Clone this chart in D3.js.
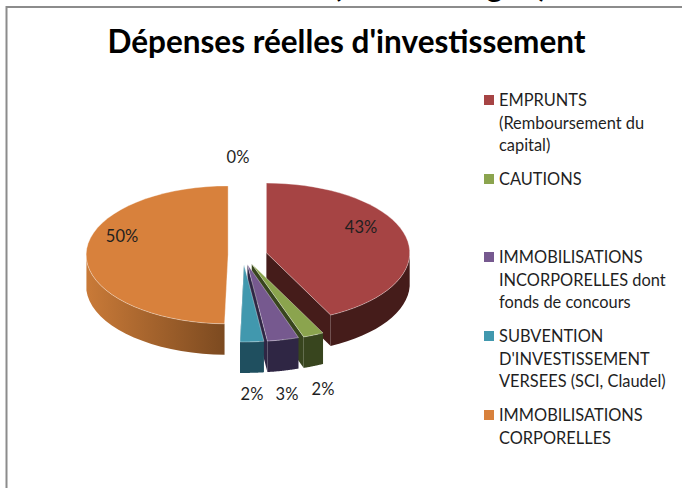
<!DOCTYPE html>
<html><head><meta charset="utf-8">
<script src="https://cdn.jsdelivr.net/npm/d3@7/dist/d3.min.js"></script>
<style>html,body{margin:0;padding:0;background:#fff;overflow:hidden}svg{display:block}text{font-family:Lato,"Open Sans",sans-serif}</style>
</head><body><svg id="c" width="682" height="488"></svg>
<script>
const categories = ["EMPRUNTS (Remboursement du capital)", "CAUTIONS", "", "IMMOBILISATIONS INCORPORELLES dont fonds de concours", "SUBVENTION D'INVESTISSEMENT VERSEES (SCI, Claudel)", "IMMOBILISATIONS CORPORELLES"];
const values = [42.6, 2.1, 0.1, 3.2, 2.4, 49.6];
const legendLines = [["EMPRUNTS","(Remboursement du","capital)"],["CAUTIONS"],[""],["IMMOBILISATIONS","INCORPORELLES dont","fonds de concours"],["SUBVENTION","D'INVESTISSEMENT","VERSEES (SCI, Claudel)"],["IMMOBILISATIONS","CORPORELLES"]];
const topColors = ["#a64444","#8ba44e","#ffffff","#76598f","#4198ae","#d8813c"];
const sideColors = ["#451c1a","#38451e","#ffffff","#2f2644","#1f4f5f","#8a5224"];
const titleText = "Dépenses réelles d'investissement";
const clippedText = "(hors budget)";

const svg = d3.select("#c");
// frame
svg.append("path").attr("d","M682,7H6.5V488").attr("fill","none").attr("stroke","#8c8c8c").attr("stroke-width",2);
svg.append("clipPath").attr("id","tc").append("rect").attr("x",0).attr("y",0).attr("width",682).attr("height",6);
svg.append("g").attr("clip-path","url(#tc)").append("text").attr("x",333).attr("y",-3).attr("textLength",214).attr("font-size",31).attr("font-weight",700).attr("fill","#000").text(clippedText);
svg.append("text").attr("x",346.5).attr("y",53).attr("text-anchor","middle").attr("font-size",31.5).attr("font-weight",700).attr("fill","#000").text(titleText);

// projected pie
const cx=247, cy=255, rx=142, ry=69, depth=31, explode=0.14;
const pie=d3.pie().sort(null).value(d=>d)(values);
const xS=d3.scaleLinear().domain([-1,1]).range([cx-rx,cx+rx]);
const yS=d3.scaleLinear().domain([-1,1]).range([cy-ry,cy+ry]);
const stretch=[1.01,1.12,1,1.12,1.12,1];
const shiftX=[0,-3,0,-4,-4,1];
const defs=svg.append("defs");
const g=svg.append("g");
function P(a,r,m,i){const sc=stretch[i];return [xS(Math.sin(m)*explode+Math.sin(a)*r*sc)+shiftX[i], yS(-Math.cos(m)*explode-Math.cos(a)*r*sc)];}
pie.forEach((d,i)=>{
  if(d.value<1) return;
  const m=(d.startAngle+d.endAngle)/2, n=40;
  const angs=d3.range(n+1).map(k=>d.startAngle+(d.endAngle-d.startAngle)*k/n);
  const line=d3.line();
  const A=P(0,0,m,i), B=P(d.endAngle,1,m,i);
  g.append("path").attr("d",line([A,B,[B[0],B[1]+depth],[A[0],A[1]+depth]])+"Z").attr("fill",sideColors[i]);
  const vis=angs.filter(a=>a>Math.PI/2&&a<Math.PI*1.5);
  if(vis.length){
    const t=vis.map(a=>P(a,1,m,i));
    const b=t.map(p=>[p[0],p[1]+depth]).reverse();
    let fill=sideColors[i];
    if(i===5){
      const grad=defs.append("linearGradient").attr("id","og").attr("gradientUnits","userSpaceOnUse")
        .attr("x1",t[0][0]).attr("x2",t[t.length-1][0]).attr("y1",0).attr("y2",0);
      grad.append("stop").attr("offset",0).attr("stop-color","#7c4a20");
      grad.append("stop").attr("offset",1).attr("stop-color","#c97a38");
      fill="url(#og)";
    }
    g.append("path").attr("d",line(t.concat(b))+"Z").attr("fill",fill);
  }
  g.append("path").attr("d",line([A].concat(angs.map(a=>P(a,1,m,i))))+"Z").attr("fill",topColors[i]).attr("stroke","#fff").attr("stroke-width",0.5).attr("stroke-opacity",0.7);
});

// value labels, set by hand as Excel places them
const labelSpots=[[361,233],[323,395],[238,163],[287,400],[252,400],[122,242]];
pie.forEach((d,i)=>{
  svg.append("text").attr("x",labelSpots[i][0]).attr("y",labelSpots[i][1]).attr("text-anchor","middle").attr("font-size",16.5).attr("fill","#1f1f1f").text(d3.format(".0f")(d.value)+"%");
});

// legend
const ly=[106,185,null,263,342,421];
legendLines.forEach((ls,i)=>{
  if(!ls[0]) return;
  svg.append("rect").attr("x",484).attr("y",ly[i]-11).attr("width",10).attr("height",10).attr("fill",topColors[i]);
  const t=svg.append("text").attr("font-size",16.4).attr("fill","#1f1f1f");
  ls.forEach((s,k)=>t.append("tspan").attr("x",499).attr("y",ly[i]+k*22.7).text(s));
});
</script></body></html>
